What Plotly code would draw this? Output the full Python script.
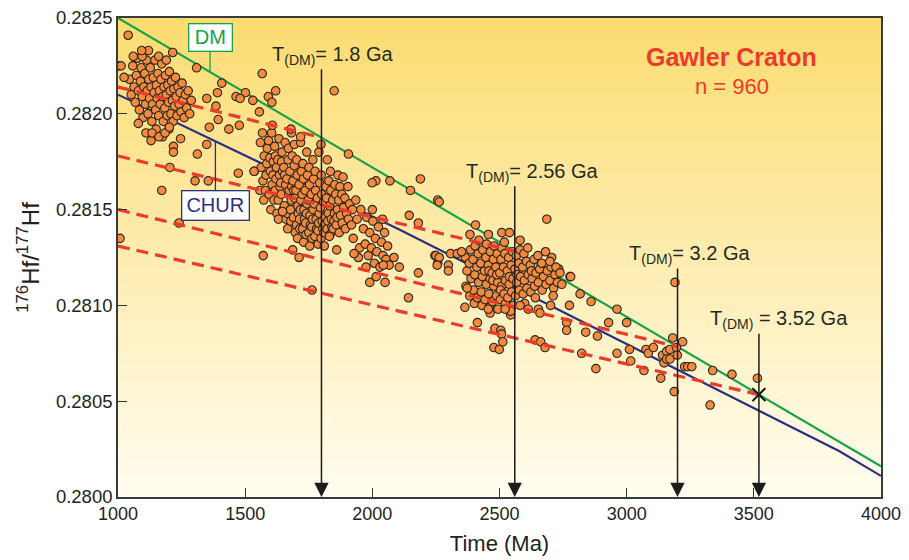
import numpy as np
import plotly.graph_objects as go

# ---------------- data ----------------
# model evolution lines (Time in Ma, 176Hf/177Hf)
dm_time = [1000, 4000]
dm_ratio = [0.28250, 0.28016]
chur_time = [1000, 2100, 3835, 4000]
chur_ratio = [0.28210, 0.28140, 0.28024, 0.28011]

# depleted-mantle model ages (Ma) and starting ratios of crustal evolution lines at 1000 Ma
tdm_ages = [1800, 2560, 3200, 3520]
tdm_labels = ["T<sub>(DM)</sub>= 1.8 Ga", "T<sub>(DM)</sub>= 2.56 Ga",
              "T<sub>(DM)</sub>= 3.2 Ga", "T<sub>(DM)</sub> = 3.52 Ga"]
crust_start_ratio = [0.28214, 0.28178, 0.28150, 0.28131]

# zircon analyses (Time Ma, ratio)
group_1000_1300 = [
    (1045,0.28218),(1052,0.28210),(1058,0.28225),(1063,0.28214),(1068,0.28206),(1072,0.28220),
    (1077,0.28229),(1080,0.28212),(1084,0.28202),(1088,0.28217),(1091,0.28224),(1095,0.28209),
    (1098,0.28198),(1102,0.28214),(1105,0.28221),(1108,0.28205),(1112,0.28228),(1115,0.28212),
    (1118,0.28200),(1121,0.28218),(1124,0.28208),(1127,0.28224),(1130,0.28214),(1133,0.28196),
    (1136,0.28205),(1139,0.28219),(1142,0.28211),(1145,0.28228),(1148,0.28202),(1151,0.28215),
    (1154,0.28208),(1157,0.28221),(1160,0.28199),(1163,0.28212),(1166,0.28205),(1169,0.28218),
    (1172,0.28226),(1175,0.28209),(1178,0.28196),(1181,0.28214),(1184,0.28203),(1187,0.28220),
    (1190,0.28210),(1193,0.28199),(1196,0.28215),(1199,0.28206),(1202,0.28222),(1205,0.28212),
    (1208,0.28200),(1211,0.28217),(1214,0.28207),(1217,0.28196),(1220,0.28213),(1223,0.28204),
    (1226,0.28219),(1229,0.28209),(1232,0.28199),(1236,0.28214),(1240,0.28205),(1244,0.28211),
    (1248,0.28201),(1252,0.28216),(1256,0.28207),(1260,0.28198),(1265,0.28210),(1270,0.28203),
    (1276,0.28212),(1282,0.28200),(1288,0.28207),(1110,0.28190),(1150,0.28192),(1175,0.28188),
    (1095,0.28230),(1120,0.28233),(1160,0.28230),(1190,0.28228),(1060,0.28230),(1080,0.28195),
    (1200,0.28192),(1130,0.28186),
]
group_scatter_early = [
    (1040,0.28241),(1004,0.28225),(1012,0.28225),(1024,0.28219),(1093,0.28233),(1215,0.28232),
    (1309,0.28224),(1567,0.28221),(1408,0.28216),(1391,0.28211),(1501,0.28211),(1464,0.28209),
    (1480,0.28208),(1530,0.28207),(1620,0.28212),(1591,0.28209),(1605,0.28206),(1556,0.28201),
    (1349,0.28208),(1385,0.28204),(1394,0.28197),(1436,0.28192),(1477,0.28194),(1359,0.28193),
    (1246,0.28187),(1349,0.28184),(1218,0.28183),(1218,0.28180),(1312,0.28179),(1204,0.28172),
    (1134,0.28190),(1161,0.28188),(1185,0.28190),(1202,0.28193),(1473,0.28169),(1536,0.28170),
    (1172,0.28160),(1240,0.28143),(1303,0.28165),(1355,0.28165),(1008,0.28135),(1850,0.28212),
    (1571,0.28126),(1687,0.28129),(1712,0.28125),
]
group_1550_1950 = [
    (1558,0.28160),(1563,0.28172),(1560,0.28185),(1570,0.28165),(1575,0.28178),(1568,0.28190),
    (1573,0.28155),(1582,0.28168),(1587,0.28182),(1580,0.28160),(1585,0.28174),(1594,0.28158),
    (1599,0.28170),(1592,0.28186),(1597,0.28177),(1601,0.28150),(1606,0.28163),(1611,0.28175),
    (1604,0.28190),(1609,0.28168),(1613,0.28155),(1618,0.28160),(1623,0.28172),(1616,0.28183),
    (1621,0.28166),(1625,0.28148),(1619,0.28178),(1630,0.28155),(1635,0.28168),(1628,0.28176),
    (1633,0.28187),(1637,0.28162),(1631,0.28145),(1642,0.28158),(1647,0.28170),(1640,0.28164),
    (1645,0.28180),(1649,0.28150),(1643,0.28175),(1654,0.28152),(1659,0.28163),(1652,0.28172),
    (1657,0.28185),(1661,0.28145),(1655,0.28168),(1666,0.28148),(1671,0.28158),(1664,0.28166),
    (1669,0.28176),(1673,0.28160),(1667,0.28140),(1670,0.28182),(1678,0.28150),(1683,0.28162),
    (1676,0.28170),(1681,0.28155),(1685,0.28178),(1679,0.28144),(1682,0.28190),(1690,0.28146),
    (1695,0.28156),(1688,0.28165),(1693,0.28173),(1697,0.28138),(1691,0.28160),(1694,0.28184),
    (1702,0.28142),(1707,0.28152),(1700,0.28160),(1705,0.28168),(1709,0.28148),(1703,0.28176),
    (1706,0.28135),(1714,0.28145),(1719,0.28155),(1712,0.28163),(1717,0.28150),(1721,0.28170),
    (1715,0.28140),(1718,0.28185),(1726,0.28140),(1731,0.28150),(1724,0.28158),(1729,0.28166),
    (1733,0.28145),(1727,0.28174),(1730,0.28133),(1738,0.28143),(1743,0.28153),(1736,0.28160),
    (1741,0.28148),(1745,0.28168),(1739,0.28137),(1742,0.28180),(1750,0.28138),(1755,0.28147),
    (1748,0.28155),(1753,0.28163),(1757,0.28142),(1751,0.28172),(1754,0.28131),(1762,0.28141),
    (1767,0.28150),(1760,0.28158),(1765,0.28145),(1769,0.28166),(1763,0.28135),(1766,0.28176),
    (1774,0.28136),(1779,0.28145),(1772,0.28153),(1777,0.28160),(1781,0.28140),(1775,0.28170),
    (1786,0.28139),(1791,0.28148),(1784,0.28156),(1789,0.28143),(1793,0.28164),(1787,0.28132),
    (1790,0.28180),(1798,0.28135),(1803,0.28144),(1796,0.28151),(1801,0.28158),(1805,0.28140),
    (1799,0.28168),(1810,0.28138),(1815,0.28146),(1808,0.28154),(1813,0.28142),(1817,0.28162),
    (1811,0.28131),(1822,0.28140),(1827,0.28148),(1820,0.28156),(1825,0.28144),(1829,0.28165),
    (1823,0.28176),(1834,0.28137),(1839,0.28145),(1832,0.28152),(1837,0.28160),(1841,0.28141),
    (1835,0.28170),(1846,0.28140),(1851,0.28148),(1844,0.28155),(1849,0.28144),(1853,0.28163),
    (1858,0.28142),(1863,0.28150),(1856,0.28158),(1861,0.28146),(1865,0.28168),(1870,0.28138),
    (1875,0.28147),(1868,0.28155),(1873,0.28162),(1882,0.28143),(1887,0.28151),(1880,0.28158),
    (1885,0.28167),(1894,0.28140),(1899,0.28148),(1892,0.28156),(1906,0.28145),(1911,0.28153),
    (1904,0.28162),(1918,0.28142),(1922,0.28150),
    (1925,0.28135),(1940,0.28145),(1950,0.28130),(1935,0.28155),(1955,0.28150),(1945,0.28125),
]
group_1950_2100 = [
    (1965,0.28140),(1972,0.28132),(1978,0.28146),(1984,0.28126),(1990,0.28138),(1996,0.28130),
    (2002,0.28144),(2008,0.28122),(2012,0.28135),(2018,0.28128),(2024,0.28141),(2030,0.28120),
    (2036,0.28133),(2042,0.28126),(2048,0.28138),(2054,0.28124),(2060,0.28131),(2066,0.28121),
    (1975,0.28120),(2000,0.28150),(2015,0.28115),(2040,0.28145),(1990,0.28112),(2050,0.28112),
]
group_scatter_mid = [
    (1906,0.28179),(2014,0.28165),(2069,0.28165),(2189,0.28166),(2150,0.28160),(2145,0.28147),
    (2181,0.28143),(2257,0.28155),(2085,0.28125),(2043,0.28121),(2106,0.28120),(1860,0.28129),
    (1928,0.28127),(1647,0.28149),(1535,0.28170),(1607,0.28194),(1680,0.28192),(1718,0.28188),
    (1798,0.28184),(1831,0.28136),(2246,0.28126),(2257,0.28122),(1999,0.28164),(1763,0.28108),
    (2142,0.28104),(2181,0.28117),
]
group_2350_2750 = [
    (2368,0.28110),(2372,0.28118),(2366,0.28125),(2383,0.28105),(2388,0.28114),(2381,0.28122),
    (2386,0.28129),(2398,0.28108),(2403,0.28116),(2396,0.28124),(2401,0.28101),(2404,0.28131),
    (2413,0.28104),(2418,0.28112),(2411,0.28120),(2416,0.28127),(2419,0.28134),(2428,0.28107),
    (2433,0.28115),(2426,0.28122),(2431,0.28100),(2434,0.28129),(2443,0.28103),(2448,0.28111),
    (2441,0.28118),(2446,0.28125),(2449,0.28132),(2458,0.28106),(2463,0.28114),(2456,0.28121),
    (2461,0.28099),(2464,0.28128),(2459,0.28118),(2473,0.28102),(2478,0.28110),(2471,0.28117),
    (2476,0.28124),(2479,0.28131),(2474,0.28113),(2488,0.28105),(2493,0.28112),(2486,0.28120),
    (2491,0.28127),(2494,0.28098),(2489,0.28116),(2503,0.28103),(2508,0.28110),(2501,0.28117),
    (2506,0.28124),(2509,0.28130),(2504,0.28108),(2518,0.28106),(2523,0.28113),(2516,0.28120),
    (2521,0.28127),(2524,0.28101),(2519,0.28133),(2533,0.28104),(2538,0.28111),(2531,0.28118),
    (2536,0.28125),(2539,0.28115),(2548,0.28107),(2553,0.28114),(2546,0.28121),(2551,0.28128),
    (2554,0.28100),(2563,0.28105),(2568,0.28112),(2561,0.28119),(2566,0.28126),(2569,0.28116),
    (2578,0.28108),(2583,0.28115),(2576,0.28122),(2581,0.28129),(2593,0.28106),(2598,0.28113),
    (2591,0.28120),(2596,0.28127),(2599,0.28101),(2608,0.28109),(2613,0.28116),(2606,0.28123),
    (2611,0.28130),(2623,0.28107),(2628,0.28114),(2621,0.28121),(2626,0.28118),(2638,0.28110),
    (2643,0.28117),(2636,0.28124),(2641,0.28104),(2653,0.28112),(2658,0.28119),(2651,0.28126),
    (2668,0.28108),(2673,0.28115),(2666,0.28122),(2683,0.28111),(2688,0.28118),(2681,0.28128),
    (2698,0.28113),(2703,0.28120),(2713,0.28109),(2718,0.28116),(2728,0.28112),(2733,0.28119),
]
group_scatter_late = [
    (2263,0.28154),(2686,0.28145),(2406,0.28142),(2384,0.28137),(2456,0.28137),(2509,0.28138),
    (2539,0.28138),(2581,0.28134),(2250,0.28126),(2263,0.28125),(2255,0.28121),(2299,0.28121),
    (2299,0.28118),(2308,0.28127),(2334,0.28127),(2351,0.28128),(2705,0.28125),(2698,0.28123),
    (2722,0.28120),(2777,0.28115),(2817,0.28106),(2860,0.28102),(2775,0.28100),(2711,0.28105),
    (2701,0.28100),(2653,0.28098),(2659,0.28096),(2764,0.28091),(2764,0.28087),(2839,0.28086),
    (2885,0.28084),(2929,0.28091),(2962,0.28098),(2413,0.28091),(2482,0.28088),(2505,0.28087),
    (2508,0.28085),(2478,0.28078),(2499,0.28077),(2513,0.28081),(2640,0.28082),(2662,0.28081),
    (2679,0.28078),(2823,0.28075),(2962,0.28075),(2364,0.28099),(2373,0.28109),(2544,0.28095),
    (2544,0.28097),(2522,0.28098),(2463,0.28096),(2456,0.28098),(2581,0.28100),(2613,0.28098),
    (2738,0.28117),(2780,0.28115),(2745,0.28111),
    (2879,0.28067),(3000,0.28091),(3011,0.28077),(3016,0.28071),(3068,0.28066),(3076,0.28077),
    (3085,0.28075),(3105,0.28078),(3134,0.28062),(3141,0.28074),(3157,0.28076),(3170,0.28077),
    (3147,0.28070),(3157,0.28072),(3170,0.28072),(3181,0.28083),(3190,0.28112),(3187,0.28055),
    (3196,0.28078),(3199,0.28074),(3220,0.28081),(3228,0.28068),(3240,0.28068),(3256,0.28068),
    (3338,0.28066),(3414,0.28064),(3514,0.28062),(3328,0.28048),
]

x_ticks = [1000, 1500, 2000, 2500, 3000, 3500, 4000]
y_ticks = [0.2800, 0.2805, 0.2810, 0.2815, 0.2820, 0.2825]

# ---------------- figure ----------------
all_pts = (group_1000_1300 + group_scatter_early + group_1550_1950 + group_1950_2100
           + group_scatter_mid + group_2350_2750 + group_scatter_late)
pt_t = [p[0] for p in all_pts]
pt_r = [p[1] for p in all_pts]

def dm_at(t):
    return float(np.interp(t, dm_time, dm_ratio))

def chur_at(t):
    return float(np.interp(t, chur_time, chur_ratio))

GREEN = "#17a24a"
NAVY = "#2c2f80"
RED = "#ec3b2c"
TXT = "#1f2b22"
FONT = "Liberation Sans, Arial, sans-serif"

fig = go.Figure()
fig.add_trace(go.Scatter(x=dm_time, y=dm_ratio, mode="lines",
                         line=dict(color=GREEN, width=2.2), hoverinfo="skip"))
fig.add_trace(go.Scatter(x=chur_time, y=chur_ratio, mode="lines",
                         line=dict(color=NAVY, width=2.2), hoverinfo="skip"))
fig.add_trace(go.Scatter(x=pt_t, y=pt_r, mode="markers",
                         marker=dict(size=8.5, color="#f38a3c",
                                     line=dict(color="#2a2622", width=1.1))))
for age, r0 in zip(tdm_ages, crust_start_ratio):
    fig.add_trace(go.Scatter(x=[1000, age], y=[r0, dm_at(age)], mode="lines",
                             line=dict(color=RED, width=3.2, dash="12px,7px"),
                             hoverinfo="skip"))
fig.add_trace(go.Scatter(x=[tdm_ages[-1]], y=[dm_at(tdm_ages[-1])], mode="markers",
                         marker=dict(symbol="x-thin", size=13,
                                     line=dict(color="#111", width=2))))

# gradient background
shapes = []
n_strips = 90
top = np.array([252, 220, 112])
bot = np.array([255, 253, 240])
for i in range(n_strips):
    f = (i + 0.5) / n_strips
    c = bot + (top - bot) * f
    shapes.append(dict(type="rect", xref="x domain", yref="y domain",
                       x0=0, x1=1, y0=i / n_strips, y1=(i + 1) / n_strips + 0.002,
                       fillcolor="rgb(%d,%d,%d)" % tuple(c.round().astype(int)),
                       line=dict(width=0), layer="below"))

# label boxes and connectors
dm_box_t, dm_box_r = 1362, 0.282398
chur_box_t, chur_box_r = 1383, 0.281524
shapes.append(dict(type="line", xref="x", yref="y", x0=dm_box_t, x1=dm_box_t,
                   y0=0.282330, y1=dm_at(dm_box_t), line=dict(color=GREEN, width=1.3)))
shapes.append(dict(type="line", xref="x", yref="y", x0=chur_box_t, x1=chur_box_t,
                   y0=0.281600, y1=chur_at(chur_box_t), line=dict(color=NAVY, width=1.3)))

annotations = []
annotations.append(dict(x=dm_box_t, y=dm_box_r, xref="x", yref="y", text="DM",
                        showarrow=False, font=dict(family=FONT, size=20, color=GREEN),
                        bgcolor="white", bordercolor=GREEN, borderwidth=1.3,
                        borderpad=2, width=38, height=22))
annotations.append(dict(x=chur_box_t, y=chur_box_r, xref="x", yref="y", text="CHUR",
                        showarrow=False, font=dict(family=FONT, size=20, color=NAVY),
                        bgcolor="white", bordercolor=NAVY, borderwidth=1.3,
                        borderpad=2, width=62, height=24))

arrow_tops = [0.28224, 0.28163, 0.28120, 0.28086]
for age, lab, rt in zip(tdm_ages, tdm_labels, arrow_tops):
    annotations.append(dict(x=age, y=0.2800, ax=age, ay=rt, xref="x", yref="y",
                            axref="x", ayref="y", text="", showarrow=True,
                            arrowhead=2, arrowsize=1.9, arrowwidth=1.5,
                            arrowcolor="#1c1c1c", standoff=0))
    annotations.append(dict(x=age, y=rt, xref="x", yref="y", text=lab,
                            showarrow=False, xanchor="left", yanchor="bottom",
                            xshift=-51, yshift=-2,
                            font=dict(family=FONT, size=20, color=TXT)))

annotations.append(dict(x=3414, y=0.282296, xref="x", yref="y", text="<b>Gawler Craton</b>",
                        showarrow=False, font=dict(family=FONT, size=25, color=RED)))
annotations.append(dict(x=3414, y=0.282140, xref="x", yref="y", text="n = 960",
                        showarrow=False, font=dict(family=FONT, size=22, color=RED)))

fig.update_layout(
    width=909, height=560,
    margin=dict(l=118, r=28, t=18, b=63, autoexpand=False),
    paper_bgcolor="white", plot_bgcolor="white",
    showlegend=False,
    shapes=shapes, annotations=annotations,
    font=dict(family=FONT, color="#222"),
)
fig.update_xaxes(range=[1000, 4000], tickvals=x_ticks, ticks="inside", ticklen=9,
                 tickwidth=1.3, tickcolor="#333", showline=True, linecolor="#3a3a3a",
                 linewidth=1.6, mirror=True, showgrid=False, zeroline=False,
                 automargin=False,
                 tickfont=dict(size=18, family=FONT, color="#222"),
                 title=dict(text="Time (Ma)", font=dict(size=22, family=FONT, color="#222"),
                            standoff=12))
fig.update_yaxes(range=[0.2800, 0.2825], tickvals=y_ticks, tickformat=".4f",
                 ticks="inside", ticklen=9, tickwidth=1.3, tickcolor="#333",
                 showline=True, linecolor="#3a3a3a", linewidth=1.6, mirror=True,
                 showgrid=False, zeroline=False, automargin=False,
                 tickfont=dict(size=18.5, family=FONT, color="#222"),
                 title=dict(text="<sup>176</sup>Hf/<sup>177</sup>Hf",
                            font=dict(size=24, family=FONT, color="#222"), standoff=10))

fig.write_html("out.html", config={"displayModeBar": False},
               post_script="document.body.style.margin='0px';")
